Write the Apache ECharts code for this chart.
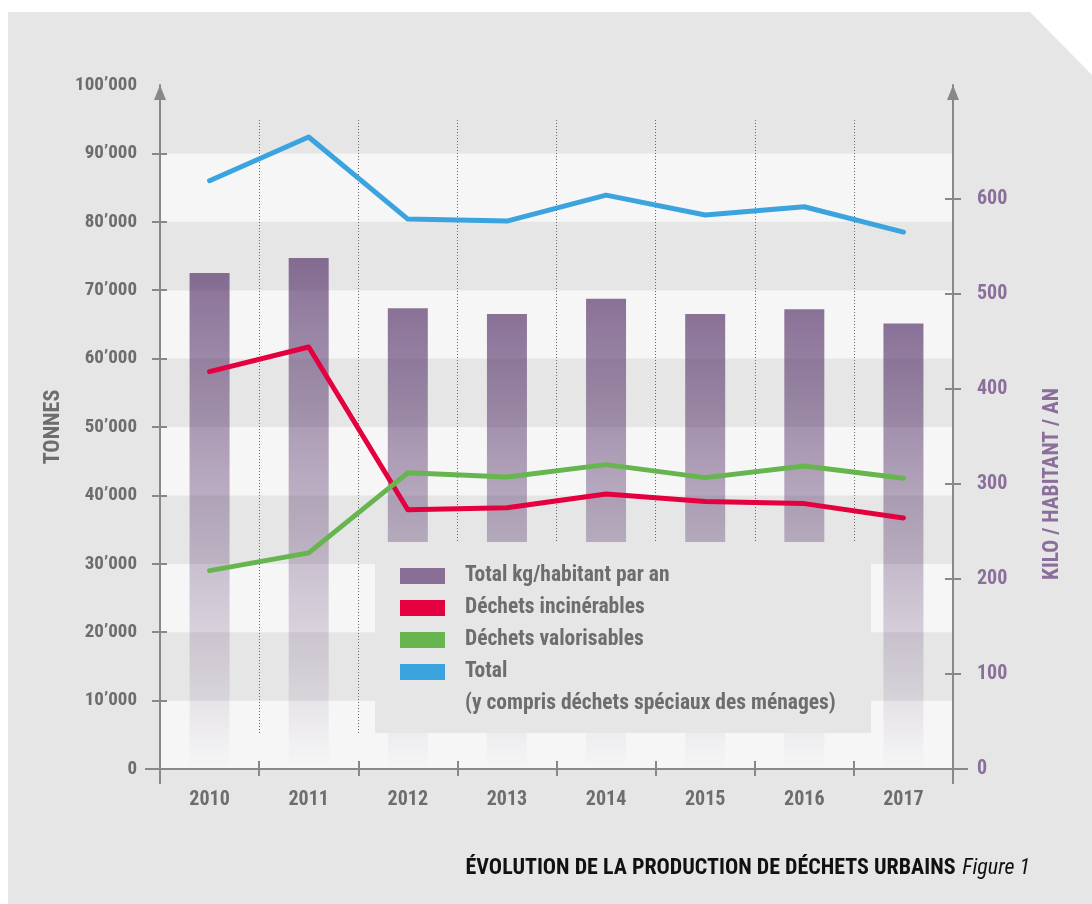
<!DOCTYPE html>
<html>
<head>
<meta charset="utf-8">
<script src="https://cdn.jsdelivr.net/npm/echarts@6/dist/echarts.min.js"></script>
<style>
html,body{margin:0;padding:0;background:#ffffff;}
#chart{width:1092px;height:904px;}
</style>
</head>
<body>
<div id="chart"></div>
<script>
// ---- data ----
const categories = ['2010','2011','2012','2013','2014','2015','2016','2017'];
const kgPerInhabitant = [522, 538, 485, 479, 495, 479, 484, 469];
const incinerables = [58100, 61700, 37900, 38200, 40200, 39100, 38800, 36700];
const valorisables = [29000, 31600, 43300, 42700, 44500, 42600, 44300, 42500];
const totalTonnes = [86000, 92400, 80400, 80100, 83900, 81000, 82200, 78500];
const leftTickValues = [0,10000,20000,30000,40000,50000,60000,70000,80000,90000];
const leftLabelValues = [0,10000,20000,30000,40000,50000,60000,70000,80000,90000,100000];
const rightTickValues = [0,100,200,300,400,500,600];
const seriesNames = ['Total kg/habitant par an','Déchets incinérables','Déchets valorisables','Total'];
const legendNote = '(y compris déchets spéciaux des ménages)';
const titleText = 'ÉVOLUTION DE LA PRODUCTION DE DÉCHETS URBAINS';
const figureText = 'Figure 1';
const leftAxisName = 'TONNES';
const rightAxisName = 'KILO / HABITANT / AN';

const FONT = '"Roboto Condensed","Open Sans Condensed","DejaVu Sans Condensed",sans-serif';
const GREY = '#6d6d6d';
const PURPLE = '#8a6f9a';
const AXIS = '#888888';
const C_BAR = '#8a6f95', C_RED = '#e4003f', C_GREEN = '#66b54f', C_BLUE = '#3ba3de';
const thinPath = 'path://M0,0h2v15h-2z';

function fmtTonnes(v){ return v === 0 ? '0' : (v/1000) + '\u2019000'; }

const chart = echarts.init(document.getElementById('chart'), null, {renderer:'canvas'});

const labelStyle = {fontFamily: FONT, fontWeight: 'bold', fontSize: 20};
const leftLabelStyle = {fontFamily: FONT, fontWeight: 'bold', fontSize: 19};

const option = {
  animation: false,
  backgroundColor: '#ffffff',
  grid: [
    {left: 160, right: 139, top: 85, bottom: 135},
    {left: 160, right: 139, top: 120, bottom: 171}
  ],
  xAxis: [
    {
      gridIndex: 0, type: 'category', data: categories, position: 'bottom', boundaryGap: true,
      axisLine: {show: true, onZero: false, lineStyle: {color: AXIS, width: 2},
        symbol: ['rect','rect'], symbolSize: [2, 15], symbolOffset: [-7.5, 7.5]},
      axisTick: {show: true, length: 7, inside: false, lineStyle: {color: AXIS, width: 2}},
      axisLabel: Object.assign({color: GREY, margin: 21}, labelStyle),
      splitLine: {show: false}
    },
    {
      gridIndex: 0, type: 'category', data: categories, position: 'bottom', boundaryGap: true,
      axisLine: {show: false, onZero: false},
      axisTick: {show: true, length: 8, inside: true, lineStyle: {color: AXIS, width: 2}},
      axisLabel: {show: false},
      splitLine: {show: false}
    },
    {
      gridIndex: 1, type: 'category', data: categories, position: 'bottom', boundaryGap: true,
      axisLine: {show: false}, axisTick: {show: false}, axisLabel: {show: false},
      splitLine: {show: true, lineStyle: {color: '#666666', width: 1, type: [1, 2]}}
    }
  ],
  yAxis: [
    {
      gridIndex: 0, type: 'value', position: 'left', min: 0, max: 100000, interval: 10000,
      axisLine: {show: true, onZero: false, lineStyle: {color: AXIS, width: 2},
        symbol: [thinPath, 'triangle'], symbolSize: [12, 15], symbolOffset: [-7.5, -7.5]},
      axisTick: {show: true, length: 8, inside: false, customValues: leftTickValues, lineStyle: {color: AXIS, width: 2}},
      axisLabel: Object.assign({color: GREY, margin: 23, customValues: leftLabelValues, formatter: fmtTonnes}, leftLabelStyle),
      splitLine: {show: false},
      splitArea: {show: true, areaStyle: {color: ['#f6f6f6', '#e6e6e6']}},
      name: leftAxisName, nameLocation: 'middle', nameGap: 94, nameRotate: 90,
      nameTextStyle: {color: GREY, fontFamily: FONT, fontWeight: 'bold', fontSize: 22}
    },
    {
      gridIndex: 0, type: 'value', position: 'right', min: 0, max: 720, interval: 100,
      axisLine: {show: true, onZero: false, lineStyle: {color: AXIS, width: 2},
        symbol: [thinPath, 'triangle'], symbolSize: [12, 15], symbolOffset: [-7.5, -7.5]},
      axisTick: {show: true, length: 8, inside: false, customValues: rightTickValues, lineStyle: {color: AXIS, width: 2}},
      axisLabel: Object.assign({color: PURPLE, margin: 24, customValues: rightTickValues}, labelStyle),
      splitLine: {show: false}
    },
    {
      gridIndex: 0, type: 'value', position: 'left', min: 0, max: 100000, interval: 10000,
      axisLine: {show: false, onZero: false},
      axisTick: {show: true, length: 7, inside: true, customValues: leftTickValues, lineStyle: {color: AXIS, width: 2}},
      axisLabel: {show: false}, splitLine: {show: false}
    },
    {
      gridIndex: 0, type: 'value', position: 'right', min: 0, max: 720, interval: 100,
      axisLine: {show: false, onZero: false},
      axisTick: {show: true, length: 8, inside: true, customValues: rightTickValues, lineStyle: {color: AXIS, width: 2}},
      axisLabel: {show: false}, splitLine: {show: false}
    },
    {
      gridIndex: 1, type: 'value', show: false, min: 0, max: 1
    }
  ],
  legend: {
    orient: 'vertical', left: 400, top: 565, padding: 0, z: 6,
    itemWidth: 45, itemHeight: 16, itemGap: 10, selectedMode: false, icon: 'rect',
    textStyle: {color: GREY, fontFamily: FONT, fontWeight: 'bold', fontSize: 21.5, lineHeight: 20, padding: [0, 0, 0, 15]},
    data: [
      {name: seriesNames[0], itemStyle: {color: C_BAR}},
      {name: seriesNames[1], itemStyle: {color: C_RED}},
      {name: seriesNames[2], itemStyle: {color: C_GREEN}},
      {name: seriesNames[3], itemStyle: {color: C_BLUE}}
    ]
  },
  graphic: [
    {type: 'polygon', z: -100, silent: true,
      shape: {points: [[8,12],[1030,12],[1092,75],[1092,904],[8,904]]},
      style: {fill: '#e6e6e6'}},
    {type: 'rect', z: 3, silent: true,
      shape: {x: 375, y: 542, width: 496, height: 191},
      style: {fill: '#e6e6e6'}},
    {type: 'text', z: 7, silent: true, x: 465, y: 704,
      style: {text: legendNote, fill: GREY, font: 'bold 21.5px ' + FONT, textVerticalAlign: 'middle'}},
    {type: 'text', z: 7, silent: true, x: 1053, y: 484, rotation: Math.PI / 2,
      style: {text: rightAxisName, fill: PURPLE, font: 'bold 21.5px ' + FONT, textAlign: 'center', textVerticalAlign: 'middle'}},
    {type: 'text', z: 7, silent: true, x: 1030, y: 868,
      style: {
        text: '{b|' + titleText + '}  {i|' + figureText + '}',
        textAlign: 'right', textVerticalAlign: 'middle',
        rich: {
          b: {fontFamily: FONT, fontWeight: 'bold', fontSize: 22, fill: '#111111', color: '#111111'},
          i: {fontFamily: FONT, fontStyle: 'italic', fontSize: 22, fill: '#111111', color: '#111111'}
        }
      }}
  ],
  series: [
    {
      name: seriesNames[0], type: 'bar', xAxisIndex: 0, yAxisIndex: 1, data: kgPerInhabitant,
      barWidth: 40, z: 2,
      itemStyle: {color: new echarts.graphic.LinearGradient(0, 0, 0, 1, [
        {offset: 0, color: 'rgba(70,32,92,0.62)'},
        {offset: 1, color: 'rgba(70,32,92,0)'}
      ])}
    },
    {
      name: seriesNames[1], type: 'line', xAxisIndex: 0, yAxisIndex: 0, data: incinerables,
      showSymbol: false, z: 4, itemStyle: {color: C_RED},
      lineStyle: {color: C_RED, width: 5, cap: 'round', join: 'round'}
    },
    {
      name: seriesNames[2], type: 'line', xAxisIndex: 0, yAxisIndex: 0, data: valorisables,
      showSymbol: false, z: 4, itemStyle: {color: C_GREEN},
      lineStyle: {color: C_GREEN, width: 5, cap: 'round', join: 'round'}
    },
    {
      name: seriesNames[3], type: 'line', xAxisIndex: 0, yAxisIndex: 0, data: totalTonnes,
      showSymbol: false, z: 4, itemStyle: {color: C_BLUE},
      lineStyle: {color: C_BLUE, width: 5, cap: 'round', join: 'round'}
    }
  ]
};
chart.setOption(option);
</script>
</body>
</html>
